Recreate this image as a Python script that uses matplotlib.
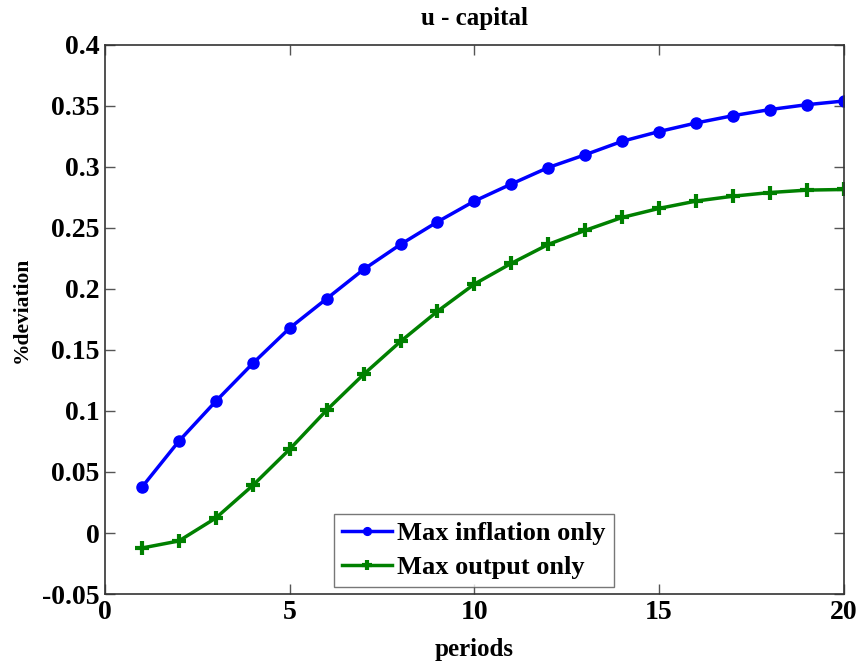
import matplotlib
matplotlib.use("Agg")
import matplotlib.pyplot as plt

periods = list(range(1, 21))
max_inflation = [0.0376, 0.0753, 0.108, 0.139, 0.168, 0.192, 0.216, 0.2365, 0.255, 0.272,
                 0.286, 0.2995, 0.310, 0.321, 0.329, 0.336, 0.342, 0.347, 0.351, 0.354]
max_output = [-0.0123, -0.0065, 0.0123, 0.039, 0.0687, 0.1007, 0.130, 0.157, 0.1817, 0.204,
              0.221, 0.2365, 0.248, 0.2586, 0.266, 0.272, 0.276, 0.279, 0.281, 0.2815]
xticks = [0, 5, 10, 15, 20]
yticks = [-0.05, 0, 0.05, 0.1, 0.15, 0.2, 0.25, 0.3, 0.35, 0.4]
ytick_labels = ["-0.05", "0", "0.05", "0.1", "0.15", "0.2", "0.25", "0.3", "0.35", "0.4"]

plt.rcParams["font.family"] = ["Liberation Serif", "DejaVu Serif"]
plt.rcParams["font.weight"] = "bold"

fig = plt.figure(figsize=(8.61, 6.70), dpi=100)
ax = fig.add_axes([0.122, 0.1134, 0.858, 0.8196])

ax.plot(periods, max_inflation, color="#0000ff", lw=2.5, marker="o", ms=8,
        label="Max inflation only")
ax.plot(periods, max_output, color="#008000", lw=2.5, marker="+", ms=10, mew=3,
        label="Max output only")

ax.set_xlim(0, 20)
ax.set_ylim(-0.05, 0.4)
ax.set_xticks(xticks)
ax.set_xticklabels([str(t) for t in xticks])
ax.set_yticks(yticks)
ax.set_yticklabels(ytick_labels)
ax.tick_params(direction="in", length=7, width=1, labelsize=20, colors="#555555",
               labelcolor="black", top=True, right=True, pad=4)
for lab in ax.get_xticklabels() + ax.get_yticklabels():
    lab.set_fontweight("bold")
for s in ax.spines.values():
    s.set_color("#333333")
    s.set_linewidth(1.2)

ax.set_title("u - capital", fontsize=18, fontweight="bold", pad=14)
ax.set_xlabel("periods", fontsize=18, fontweight="bold", labelpad=10)
ax.set_ylabel("%deviation", fontsize=15.5, fontweight="bold")
ax.yaxis.set_label_coords(-0.099, 0.517)

leg = ax.legend(loc="lower left", bbox_to_anchor=(0.31, 0.0128), fontsize=19,
                frameon=True, fancybox=False, edgecolor="#555555", handlelength=1.9,
                handletextpad=0.2, borderpad=0.3, labelspacing=0.4, borderaxespad=0,
                markerscale=0.7)
leg.get_frame().set_linewidth(1)
for t in leg.get_texts():
    t.set_fontweight("bold")

fig.savefig("out.png", dpi=100)
